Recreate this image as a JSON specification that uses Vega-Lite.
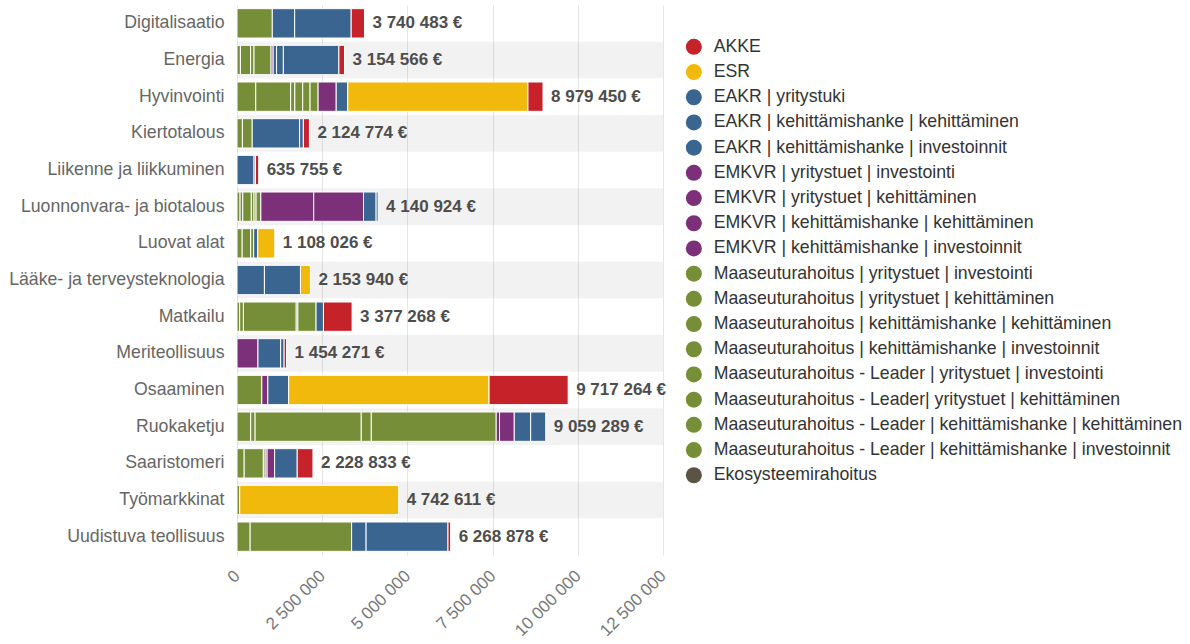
{
  "$schema": "https://vega.github.io/schema/vega-lite/v6.json",
  "width": 426,
  "height": 550,
  "autosize": {"type": "none"},
  "padding": {"left": 237, "top": 5, "right": 527, "bottom": 89},
  "background": "white",
  "config": {
    "locale": {"number": {"decimal": ",", "thousands": " ", "grouping": [3], "currency": ["", " €"]}},
    "font": "Liberation Sans",
    "view": {"stroke": null}
  },
  "datasets": {
    "sarjat": [
      {"rahoitus": "AKKE", "jarjestys": 0},
      {"rahoitus": "ESR", "jarjestys": 1},
      {"rahoitus": "EAKR | yritystuki", "jarjestys": 2},
      {"rahoitus": "EAKR | kehittämishanke | kehittäminen", "jarjestys": 3},
      {"rahoitus": "EAKR | kehittämishanke | investoinnit", "jarjestys": 4},
      {"rahoitus": "EMKVR | yritystuet | investointi", "jarjestys": 5},
      {"rahoitus": "EMKVR | yritystuet | kehittäminen", "jarjestys": 6},
      {"rahoitus": "EMKVR | kehittämishanke | kehittäminen", "jarjestys": 7},
      {"rahoitus": "EMKVR | kehittämishanke | investoinnit", "jarjestys": 8},
      {"rahoitus": "Maaseuturahoitus | yritystuet | investointi", "jarjestys": 9},
      {"rahoitus": "Maaseuturahoitus | yritystuet | kehittäminen", "jarjestys": 10},
      {"rahoitus": "Maaseuturahoitus | kehittämishanke | kehittäminen", "jarjestys": 11},
      {"rahoitus": "Maaseuturahoitus | kehittämishanke | investoinnit", "jarjestys": 12},
      {"rahoitus": "Maaseuturahoitus - Leader | yritystuet | investointi", "jarjestys": 13},
      {"rahoitus": "Maaseuturahoitus - Leader| yritystuet | kehittäminen", "jarjestys": 14},
      {"rahoitus": "Maaseuturahoitus - Leader | kehittämishanke | kehittäminen", "jarjestys": 15},
      {"rahoitus": "Maaseuturahoitus - Leader | kehittämishanke | investoinnit", "jarjestys": 16},
      {"rahoitus": "Ekosysteemirahoitus", "jarjestys": 17}
    ],
    "rahoitus": [
      {"teema": "Digitalisaatio", "rahoitus": "Maaseuturahoitus | kehittämishanke | kehittäminen", "euroa": 1036000},
      {"teema": "Digitalisaatio", "rahoitus": "EAKR | kehittämishanke | kehittäminen", "euroa": 656000},
      {"teema": "Digitalisaatio", "rahoitus": "EAKR | yritystuki", "euroa": 1659000},
      {"teema": "Digitalisaatio", "rahoitus": "AKKE", "euroa": 389483},

      {"teema": "Energia", "rahoitus": "Maaseuturahoitus - Leader | kehittämishanke | investoinnit", "euroa": 100000},
      {"teema": "Energia", "rahoitus": "Maaseuturahoitus | kehittämishanke | investoinnit", "euroa": 300000},
      {"teema": "Energia", "rahoitus": "Maaseuturahoitus | kehittämishanke | kehittäminen", "euroa": 100000},
      {"teema": "Energia", "rahoitus": "Maaseuturahoitus | yritystuet | investointi", "euroa": 500000},
      {"teema": "Energia", "rahoitus": "EMKVR | yritystuet | investointi", "euroa": 60000},
      {"teema": "Energia", "rahoitus": "EAKR | kehittämishanke | investoinnit", "euroa": 100000},
      {"teema": "Energia", "rahoitus": "EAKR | kehittämishanke | kehittäminen", "euroa": 200000},
      {"teema": "Energia", "rahoitus": "EAKR | yritystuki", "euroa": 1630000},
      {"teema": "Energia", "rahoitus": "AKKE", "euroa": 164566},

      {"teema": "Hyvinvointi", "rahoitus": "Maaseuturahoitus - Leader | kehittämishanke | investoinnit", "euroa": 551000},
      {"teema": "Hyvinvointi", "rahoitus": "Maaseuturahoitus - Leader | kehittämishanke | kehittäminen", "euroa": 1023000},
      {"teema": "Hyvinvointi", "rahoitus": "Maaseuturahoitus - Leader| yritystuet | kehittäminen", "euroa": 123000},
      {"teema": "Hyvinvointi", "rahoitus": "Maaseuturahoitus - Leader | yritystuet | investointi", "euroa": 231000},
      {"teema": "Hyvinvointi", "rahoitus": "Maaseuturahoitus | kehittämishanke | investoinnit", "euroa": 216000},
      {"teema": "Hyvinvointi", "rahoitus": "Maaseuturahoitus | yritystuet | kehittäminen", "euroa": 236000},
      {"teema": "Hyvinvointi", "rahoitus": "EMKVR | kehittämishanke | kehittäminen", "euroa": 531000},
      {"teema": "Hyvinvointi", "rahoitus": "EAKR | yritystuki", "euroa": 339000},
      {"teema": "Hyvinvointi", "rahoitus": "ESR", "euroa": 5287000},
      {"teema": "Hyvinvointi", "rahoitus": "AKKE", "euroa": 442450},

      {"teema": "Kiertotalous", "rahoitus": "Maaseuturahoitus - Leader | kehittämishanke | kehittäminen", "euroa": 159000},
      {"teema": "Kiertotalous", "rahoitus": "Maaseuturahoitus | kehittämishanke | kehittäminen", "euroa": 288000},
      {"teema": "Kiertotalous", "rahoitus": "EAKR | kehittämishanke | kehittäminen", "euroa": 1391000},
      {"teema": "Kiertotalous", "rahoitus": "EAKR | yritystuki", "euroa": 109000},
      {"teema": "Kiertotalous", "rahoitus": "AKKE", "euroa": 177774},

      {"teema": "Liikenne ja liikkuminen", "rahoitus": "EAKR | kehittämishanke | kehittäminen", "euroa": 500000},
      {"teema": "Liikenne ja liikkuminen", "rahoitus": "EAKR | yritystuki", "euroa": 40000},
      {"teema": "Liikenne ja liikkuminen", "rahoitus": "AKKE", "euroa": 95755},

      {"teema": "Luonnonvara- ja biotalous", "rahoitus": "Maaseuturahoitus - Leader | kehittämishanke | investoinnit", "euroa": 90000},
      {"teema": "Luonnonvara- ja biotalous", "rahoitus": "Maaseuturahoitus - Leader | kehittämishanke | kehittäminen", "euroa": 80000},
      {"teema": "Luonnonvara- ja biotalous", "rahoitus": "Maaseuturahoitus - Leader| yritystuet | kehittäminen", "euroa": 250000},
      {"teema": "Luonnonvara- ja biotalous", "rahoitus": "Maaseuturahoitus - Leader | yritystuet | investointi", "euroa": 80000},
      {"teema": "Luonnonvara- ja biotalous", "rahoitus": "Maaseuturahoitus | kehittämishanke | investoinnit", "euroa": 60000},
      {"teema": "Luonnonvara- ja biotalous", "rahoitus": "Maaseuturahoitus | kehittämishanke | kehittäminen", "euroa": 140000},
      {"teema": "Luonnonvara- ja biotalous", "rahoitus": "EMKVR | kehittämishanke | investoinnit", "euroa": 1551000},
      {"teema": "Luonnonvara- ja biotalous", "rahoitus": "EMKVR | kehittämishanke | kehittäminen", "euroa": 1461000},
      {"teema": "Luonnonvara- ja biotalous", "rahoitus": "EAKR | kehittämishanke | kehittäminen", "euroa": 370000},
      {"teema": "Luonnonvara- ja biotalous", "rahoitus": "EAKR | yritystuki", "euroa": 58924},

      {"teema": "Luovat alat", "rahoitus": "Maaseuturahoitus - Leader | kehittämishanke | kehittäminen", "euroa": 152000},
      {"teema": "Luovat alat", "rahoitus": "Maaseuturahoitus | kehittämishanke | kehittäminen", "euroa": 250000},
      {"teema": "Luovat alat", "rahoitus": "Maaseuturahoitus | yritystuet | kehittäminen", "euroa": 87000},
      {"teema": "Luovat alat", "rahoitus": "EAKR | kehittämishanke | kehittäminen", "euroa": 120000},
      {"teema": "Luovat alat", "rahoitus": "ESR", "euroa": 499026},

      {"teema": "Lääke- ja terveysteknologia", "rahoitus": "EAKR | kehittämishanke | kehittäminen", "euroa": 805000},
      {"teema": "Lääke- ja terveysteknologia", "rahoitus": "EAKR | yritystuki", "euroa": 1057000},
      {"teema": "Lääke- ja terveysteknologia", "rahoitus": "ESR", "euroa": 291940},

      {"teema": "Matkailu", "rahoitus": "Maaseuturahoitus - Leader | kehittämishanke | investoinnit", "euroa": 79000},
      {"teema": "Matkailu", "rahoitus": "Maaseuturahoitus - Leader | kehittämishanke | kehittäminen", "euroa": 109000},
      {"teema": "Matkailu", "rahoitus": "Maaseuturahoitus | kehittämishanke | kehittäminen", "euroa": 1550000},
      {"teema": "Matkailu", "rahoitus": "Maaseuturahoitus | yritystuet | kehittäminen", "euroa": 49000},
      {"teema": "Matkailu", "rahoitus": "Maaseuturahoitus | yritystuet | investointi", "euroa": 533000},
      {"teema": "Matkailu", "rahoitus": "EAKR | yritystuki", "euroa": 217000},
      {"teema": "Matkailu", "rahoitus": "AKKE", "euroa": 840268},

      {"teema": "Meriteollisuus", "rahoitus": "EMKVR | kehittämishanke | kehittäminen", "euroa": 615000},
      {"teema": "Meriteollisuus", "rahoitus": "EAKR | kehittämishanke | kehittäminen", "euroa": 666000},
      {"teema": "Meriteollisuus", "rahoitus": "EAKR | yritystuki", "euroa": 102000},
      {"teema": "Meriteollisuus", "rahoitus": "AKKE", "euroa": 71271},

      {"teema": "Osaaminen", "rahoitus": "Maaseuturahoitus | kehittämishanke | kehittäminen", "euroa": 728000},
      {"teema": "Osaaminen", "rahoitus": "EMKVR | kehittämishanke | kehittäminen", "euroa": 177000},
      {"teema": "Osaaminen", "rahoitus": "EAKR | yritystuki", "euroa": 610000},
      {"teema": "Osaaminen", "rahoitus": "ESR", "euroa": 5882000},
      {"teema": "Osaaminen", "rahoitus": "AKKE", "euroa": 2320264},

      {"teema": "Ruokaketju", "rahoitus": "Maaseuturahoitus - Leader | kehittämishanke | investoinnit", "euroa": 403000},
      {"teema": "Ruokaketju", "rahoitus": "Maaseuturahoitus - Leader | kehittämishanke | kehittäminen", "euroa": 128000},
      {"teema": "Ruokaketju", "rahoitus": "Maaseuturahoitus | kehittämishanke | kehittäminen", "euroa": 3115000},
      {"teema": "Ruokaketju", "rahoitus": "Maaseuturahoitus | yritystuet | kehittäminen", "euroa": 295000},
      {"teema": "Ruokaketju", "rahoitus": "Maaseuturahoitus | yritystuet | investointi", "euroa": 3665000},
      {"teema": "Ruokaketju", "rahoitus": "EMKVR | kehittämishanke | investoinnit", "euroa": 98000},
      {"teema": "Ruokaketju", "rahoitus": "EMKVR | kehittämishanke | kehittäminen", "euroa": 432000},
      {"teema": "Ruokaketju", "rahoitus": "EAKR | kehittämishanke | kehittäminen", "euroa": 481000},
      {"teema": "Ruokaketju", "rahoitus": "EAKR | yritystuki", "euroa": 442289},

      {"teema": "Saaristomeri", "rahoitus": "Maaseuturahoitus - Leader | kehittämishanke | kehittäminen", "euroa": 211000},
      {"teema": "Saaristomeri", "rahoitus": "Maaseuturahoitus | kehittämishanke | kehittäminen", "euroa": 562000},
      {"teema": "Saaristomeri", "rahoitus": "Maaseuturahoitus | yritystuet | kehittäminen", "euroa": 55000},
      {"teema": "Saaristomeri", "rahoitus": "EMKVR | kehittämishanke | investoinnit", "euroa": 55000},
      {"teema": "Saaristomeri", "rahoitus": "EMKVR | kehittämishanke | kehittäminen", "euroa": 221000},
      {"teema": "Saaristomeri", "rahoitus": "EAKR | yritystuki", "euroa": 663000},
      {"teema": "Saaristomeri", "rahoitus": "AKKE", "euroa": 461833},

      {"teema": "Työmarkkinat", "rahoitus": "Maaseuturahoitus - Leader | kehittämishanke | investoinnit", "euroa": 80000},
      {"teema": "Työmarkkinat", "rahoitus": "ESR", "euroa": 4662611},

      {"teema": "Uudistuva teollisuus", "rahoitus": "Maaseuturahoitus - Leader | kehittämishanke | kehittäminen", "euroa": 386000},
      {"teema": "Uudistuva teollisuus", "rahoitus": "Maaseuturahoitus | kehittämishanke | kehittäminen", "euroa": 2977000},
      {"teema": "Uudistuva teollisuus", "rahoitus": "EAKR | kehittämishanke | kehittäminen", "euroa": 425000},
      {"teema": "Uudistuva teollisuus", "rahoitus": "EAKR | yritystuki", "euroa": 2403000},
      {"teema": "Uudistuva teollisuus", "rahoitus": "AKKE", "euroa": 77878}
    ]
  },
  "data": {"name": "rahoitus"},
  "encoding": {
    "y": {
      "field": "teema",
      "type": "nominal",
      "title": null,
      "scale": {"paddingInner": 0, "paddingOuter": 0},
      "axis": {"ticks": false, "domain": false, "grid": false, "labelFontSize": 17.7, "labelColor": "#666666", "labelPadding": 13, "labelLimit": 300}
    }
  },
  "layer": [
    {
      "transform": [
        {"aggregate": [{"op": "sum", "field": "euroa", "as": "yht"}], "groupby": ["teema"]},
        {"window": [{"op": "row_number", "as": "rivi"}], "sort": [{"field": "teema", "order": "ascending"}]},
        {"filter": "datum.rivi % 2 == 0"}
      ],
      "mark": {"type": "rect", "color": "#000000", "opacity": 0.05},
      "encoding": {}
    },
    {
      "transform": [
        {"lookup": "rahoitus", "from": {"data": {"name": "sarjat"}, "key": "rahoitus", "fields": ["jarjestys"]}}
      ],
      "mark": {"type": "bar", "height": {"band": 0.8}, "stroke": "white", "strokeWidth": 1},
      "encoding": {
        "x": {
          "field": "euroa",
          "type": "quantitative",
          "stack": "zero",
          "title": null,
          "scale": {"domain": [0, 12500000], "nice": false},
          "axis": {
            "values": [0, 2500000, 5000000, 7500000, 10000000, 12500000],
            "format": ",.0f",
            "labelAngle": -45,
            "labelAlign": "right",
            "labelBaseline": "middle",
            "labelFontSize": 17,
            "labelColor": "#777777",
            "labelPadding": 18,
            "ticks": false,
            "domain": false,
            "grid": true,
            "gridColor": "#e6e6e6",
            "labelFlush": false,
            "labelOverlap": false
          }
        },
        "color": {
          "field": "rahoitus",
          "type": "nominal",
          "scale": {
            "domain": [
              "AKKE", "ESR", "EAKR | yritystuki", "EAKR | kehittämishanke | kehittäminen", "EAKR | kehittämishanke | investoinnit",
              "EMKVR | yritystuet | investointi", "EMKVR | yritystuet | kehittäminen", "EMKVR | kehittämishanke | kehittäminen", "EMKVR | kehittämishanke | investoinnit",
              "Maaseuturahoitus | yritystuet | investointi", "Maaseuturahoitus | yritystuet | kehittäminen", "Maaseuturahoitus | kehittämishanke | kehittäminen", "Maaseuturahoitus | kehittämishanke | investoinnit",
              "Maaseuturahoitus - Leader | yritystuet | investointi", "Maaseuturahoitus - Leader| yritystuet | kehittäminen", "Maaseuturahoitus - Leader | kehittämishanke | kehittäminen", "Maaseuturahoitus - Leader | kehittämishanke | investoinnit",
              "Ekosysteemirahoitus"
            ],
            "range": [
              "#c6222a", "#f0b90c", "#3b6591", "#3b6591", "#3b6591",
              "#7c3079", "#7c3079", "#7c3079", "#7c3079",
              "#768e37", "#768e37", "#768e37", "#768e37",
              "#768e37", "#768e37", "#768e37", "#768e37",
              "#5b5444"
            ]
          },
          "legend": {
            "title": null,
            "orient": "none",
            "legendX": 448,
            "legendY": 33,
            "padding": 0,
            "symbolType": "circle",
            "symbolSize": 256,
            "symbolStrokeWidth": 0,
            "symbolOpacity": 1,
            "labelFontSize": 17.7,
            "labelColor": "#333333",
            "labelOffset": 11,
            "rowPadding": 6.2,
            "labelLimit": 600
          }
        },
        "order": {"field": "jarjestys", "type": "quantitative", "sort": "descending"}
      }
    },
    {
      "transform": [
        {"aggregate": [{"op": "sum", "field": "euroa", "as": "yht"}], "groupby": ["teema"]}
      ],
      "mark": {"type": "text", "align": "left", "baseline": "middle", "dx": 8, "fontSize": 17, "fontWeight": "bold", "color": "#4d4d4d"},
      "encoding": {
        "x": {"field": "yht", "type": "quantitative"},
        "text": {"field": "yht", "type": "quantitative", "format": "$,.0f"}
      }
    }
  ]
}
